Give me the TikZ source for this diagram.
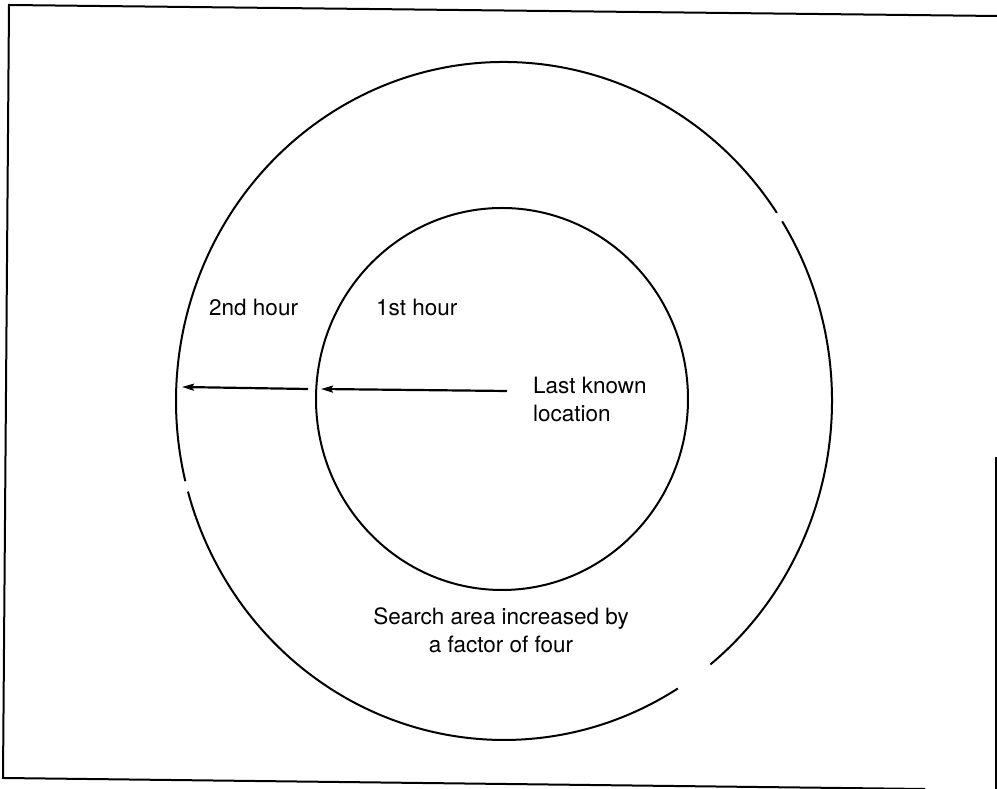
\documentclass[tikz,border=0pt]{standalone}
\usepackage{fontspec}
\setmainfont{TeX Gyre Heros}
\usetikzlibrary{arrows.meta}
\begin{document}
\begin{tikzpicture}[x=1pt,y=1pt,
  ring/.style={line width=2pt},
  frameline/.style={line width=2pt},
  ptr/.style={line width=2.2pt,-{Stealth[length=12pt,width=7pt,inset=2pt]}},
  lbl/.style={inner sep=0pt,font=\fontsize{22.5}{28}\selectfont}]
\useasboundingbox (0,0) rectangle (997,789);
\fill[white] (0,0) rectangle (997,789);
% frame
\draw[frameline] (997,773) -- (9,784) -- (3,11) -- (925,0);
\draw[frameline] (996,332) -- (996,0);
% circles
\coordinate (oc) at (504,388);
\coordinate (ic) at (502,390);
\draw[ring] (ic) ellipse [x radius=186, y radius=191];
\draw[ring] (oc) ++(33.7:328pt and 339pt) arc [start angle=33.7, end angle=193.7, x radius=328, y radius=339];
\draw[ring] (oc) ++(195.5:328pt and 339pt) arc [start angle=195.5, end angle=302, x radius=328, y radius=339];
\draw[ring] (oc) ++(309:328pt and 339pt) arc [start angle=309, end angle=392, x radius=328, y radius=339];
% labels
\node[lbl,anchor=base west] (h2) at (209,473) {2nd hour};
\node[lbl,anchor=base west] (h1) at (376,473) {1st hour};
\node[lbl,anchor=base west,align=left] (lk) at (533,367) {Last known\\location};
\node[lbl,anchor=base,align=center] (sa) at (501,136) {Search area increased by\\a factor of four};
% arrows
\coordinate (a1s) at (507,398);
\coordinate (a1e) at (321,400);
\coordinate (a2s) at (308,400);
\coordinate (a2e) at (182,402);
\draw[ptr] (a1s) -- (a1e);
\draw[ptr] (a2s) -- (a2e);
\end{tikzpicture}
\end{document}
